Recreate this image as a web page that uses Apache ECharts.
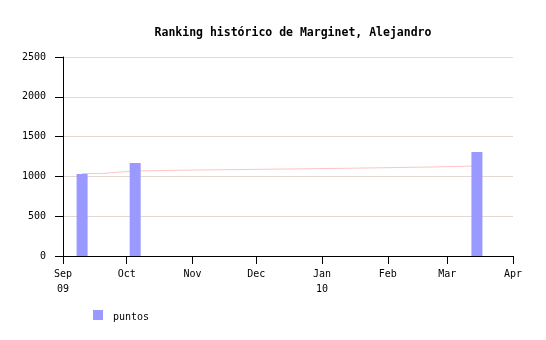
<!DOCTYPE html>
<html><head><meta charset="utf-8">
<script src="https://cdn.jsdelivr.net/npm/echarts@6/dist/echarts.min.js"></script>
<style>html,body{margin:0;padding:0;background:#fff}#c{width:546px;height:340px}</style>
</head><body><div id="c"></div>
<script>
const titleText = 'Ranking histórico de Marginet, Alejandro';
const seriesName = 'puntos';
const barDates = ['2009-09-10', '2009-10-05', '2010-03-15'];
const barValues = [1030, 1168, 1306];
const lineDates = ['2009-09-10', '2009-09-19', '2009-09-26', '2009-10-05', '2009-10-25', '2009-12-03', '2010-01-13', '2010-02-22', '2010-03-15'];
const lineValues = [1036, 1051, 1068, 1077, 1089, 1102, 1118, 1131, 1131];
const tickDates = ['2009-09-01', '2009-10-01', '2009-11-01', '2009-12-01', '2010-01-01', '2010-02-01', '2010-03-01', '2010-04-01'];
const tickLabels = ['Sep\n09', 'Oct', 'Nov', 'Dec', 'Jan\n10', 'Feb', 'Mar', 'Apr'];
const yMin = 0, yMax = 2500, yStep = 500;

const ts = d => { const p = d.split('-').map(Number); return Date.UTC(p[0], p[1] - 1, p[2]); };
const tickTs = tickDates.map(ts);
const labelMap = {};
tickTs.forEach((t, i) => labelMap[t] = tickLabels[i]);
const font = '"DejaVu Sans Mono", monospace';

const chart = echarts.init(document.getElementById('c'), null, {renderer: 'canvas'});
chart.setOption({
  animation: false,
  backgroundColor: '#ffffff',
  title: {
    text: titleText, left: 288, top: 22, textAlign: 'center',
    textStyle: {fontFamily: font, fontWeight: 'bold', fontSize: 11.5, color: '#000'}
  },
  legend: {
    left: 93, top: 310, itemWidth: 10, itemHeight: 10, itemGap: 10,
    data: [{name: seriesName, icon: 'rect'}],
    formatter: n => '{a|' + n + '}',
    textStyle: {fontFamily: font, fontSize: 10, color: '#000',
      rich: {a: {fontFamily: font, fontSize: 10, color: '#000', padding: [5, 0, 0, 5]}}},
    padding: 0
  },
  grid: {left: 63, right: 33, top: 57, bottom: 84, containLabel: false},
  xAxis: {
    type: 'value', min: tickTs[0], max: tickTs[tickTs.length - 1],
    axisLine: {show: true, onZero: false, lineStyle: {color: '#000', width: 1}},
    axisTick: {show: true, length: 8, inside: false, customValues: tickTs, lineStyle: {color: '#000'}},
    axisLabel: {
      customValues: tickTs, margin: 11, fontFamily: font, fontSize: 10, color: '#000', lineHeight: 15,
      formatter: v => labelMap[v] !== undefined ? labelMap[v] : '',
      showMinLabel: true, showMaxLabel: true
    },
    splitLine: {show: false}
  },
  yAxis: {
    type: 'value', min: yMin, max: yMax, interval: yStep,
    axisLine: {show: true, lineStyle: {color: '#000', width: 1}},
    axisTick: {show: true, length: 8, inside: false, lineStyle: {color: '#000'}},
    axisLabel: {margin: 17, fontFamily: font, fontSize: 10, color: '#000', formatter: v => String(v)},
    splitLine: {show: true, lineStyle: {color: '#e4d8d2', width: 1}}
  },
  series: [
    {
      name: seriesName, type: 'bar', barWidth: 11,
      itemStyle: {color: '#9999ff'},
      data: barDates.map((d, i) => [ts(d), barValues[i]]),
      z: 3
    },
    {
      name: 'linea', type: 'line', step: 'end', showSymbol: false, symbol: 'none',
      lineStyle: {color: '#ffc4c4', width: 1},
      data: lineDates.map((d, i) => [ts(d), lineValues[i]]),
      z: 2, silent: true
    }
  ]
});
</script></body></html>
